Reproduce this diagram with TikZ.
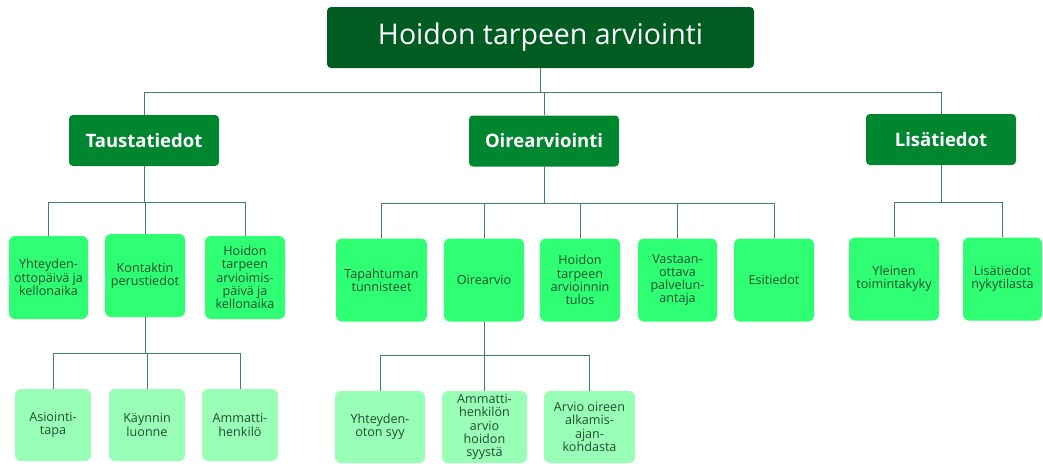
\documentclass[tikz,border=0pt]{standalone}
\usepackage{fontspec}
\setmainfont{Open Sans}
\usetikzlibrary{positioning}
\definecolor{rootgreen}{HTML}{005C20}
\definecolor{maingreen}{HTML}{00862F}
\definecolor{subgreen}{HTML}{2EFF73}
\definecolor{leafgreen}{HTML}{99FFB7}
\definecolor{textgreen}{HTML}{1F4D31}
\definecolor{linegreen}{HTML}{3F8557}
\tikzstyle{rootbox}=[rectangle,rounded corners=4pt,fill=rootgreen,text=white,minimum width=427pt,minimum height=61pt,font=\fontsize{28.5}{32}\selectfont]
\tikzstyle{mainbox}=[rectangle,rounded corners=4pt,fill=maingreen,text=white,minimum width=150pt,minimum height=51pt,font=\bfseries\fontsize{18.5}{22}\selectfont]
\tikzstyle{subbox}=[rectangle,rounded corners=6pt,fill=subgreen,text=textgreen,align=center,inner sep=0pt,font=\fontsize{12.6}{13.3}\selectfont]
\tikzstyle{leafbox}=[subbox,fill=leafgreen]
\tikzstyle{link}=[draw=linegreen,line width=1pt]

\begin{document}
\begin{tikzpicture}[x=1pt,y=-1pt]
  \useasboundingbox (0,0) rectangle (1043,463);

  \node[rootbox] (root) at (540.5,37.5) {Hoidon tarpeen arviointi};

  \foreach \x/\y/\name/\label in {144/140.5/taus/Taustatiedot, 544/141/oire/Oirearviointi, 941/139.5/lisa/Lisätiedot}
     \node[mainbox] (\name) at (\x,\y) {\label};

  % toinen taso
  \foreach \x/\y/\w/\name/\label in {48.5/277.5/79/yht/{Yhteyden-\\ottopäivä ja\\kellonaika},
        145/275.5/80/kont/{Kontaktin\\perustiedot},
        245/277.5/80/hoid/{Hoidon\\tarpeen\\arvioimis-\\päivä ja\\kellonaika},
        381.5/280/91/tapa/{Tapahtuman\\tunnisteet},
        484/280/80/oirv/{Oirearvio},
        580/280/80/tulos/{Hoidon\\tarpeen\\arvioinnin\\tulos},
        677.5/280/79/vast/{Vastaan-\\ottava\\palvelun-\\antaja},
        774/280/80/esit/{Esitiedot},
        894/279/90/ylei/{Yleinen\\toimintakyky},
        1002.5/279/79/nyky/{Lisätiedot\\nykytilasta}}
     \node[subbox, minimum width=\w pt, minimum height=83pt] (\name) at (\x,\y) {\label};

  % kolmas taso
  \foreach \x/\y/\w/\name/\label in {53/425/76/asio/{Asiointi-\\tapa},
        147/425/76/kayn/{Käynnin\\luonne},
        240/425/76/amma/{Ammatti-\\henkilö},
        380/427/90/syy/{Yhteyden-\\oton syy},
        484.5/427/85/arvi/{Ammatti-\\henkilön\\arvio\\hoidon\\syystä},
        589.5/427/91/alka/{Arvio oireen\\alkamis-\\ajan-\\kohdasta}}
     \node[leafbox, minimum width=\w pt, minimum height=72pt] (\name) at (\x,\y) {\label};

  \foreach \source/\dest/\drop in {root/taus/24, root/oire/24, root/lisa/24,
        taus/yht/36, taus/kont/36, taus/hoid/36,
        kont/asio/36, kont/kayn/36, kont/amma/36,
        oire/tapa/37, oire/oirv/37, oire/tulos/37, oire/vast/37, oire/esit/37,
        oirv/syy/34, oirv/arvi/34, oirv/alka/34,
        lisa/ylei/37, lisa/nyky/37}
     \draw[link] (\source.south) -- ++(0,\drop) -| (\dest.north);

\end{tikzpicture}
\end{document}
